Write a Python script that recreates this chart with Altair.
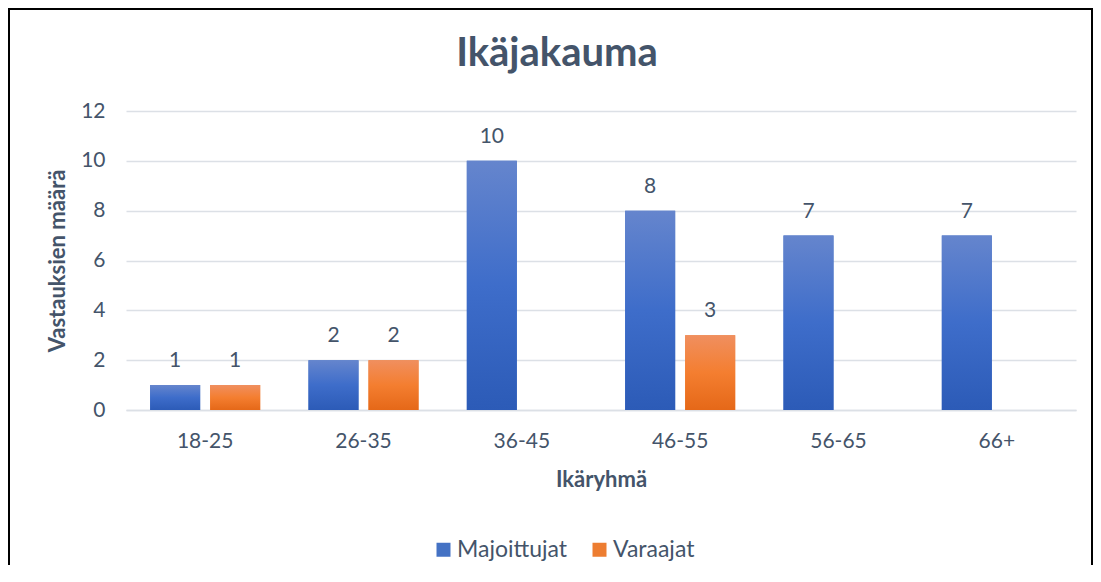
import altair as alt
import pandas as pd

categories = ["18-25", "26-35", "36-45", "46-55", "56-65", "66+"]
majoittujat = [1, 2, 10, 8, 7, 7]
varaajat = [1, 2, None, 3, None, None]
series_names = ["Majoittujat", "Varaajat"]

rows = []
for c, m, v in zip(categories, majoittujat, varaajat):
    rows.append({"ryhma": c, "sarja": "Majoittujat", "arvo": m})
    rows.append({"ryhma": c, "sarja": "Varaajat", "arvo": v})
df = pd.DataFrame(rows)

TXT = "#44546A"
FONT = "Lato"

blue_grad = alt.LinearGradient(
    gradient="linear", x1=0, x2=0, y1=0, y2=1,
    stops=[alt.GradientStop(color="#6585CD", offset=0),
           alt.GradientStop(color="#3E6DCA", offset=0.5),
           alt.GradientStop(color="#2C5BB7", offset=1)])
orange_grad = alt.LinearGradient(
    gradient="linear", x1=0, x2=0, y1=0, y2=1,
    stops=[alt.GradientStop(color="#F08F5F", offset=0),
           alt.GradientStop(color="#F47E30", offset=0.5),
           alt.GradientStop(color="#E56818", offset=1)])

x_enc = alt.X("ryhma:N", sort=categories,
              scale=alt.Scale(paddingInner=0.305, paddingOuter=0.1525),
              axis=alt.Axis(title="Ikäryhmä", labelAngle=0, ticks=False, tickSize=0,
                            domainColor="#DCE0E6", domainWidth=1.5,
                            labelPadding=20, titlePadding=18))
xo_enc = alt.XOffset("sarja:N", sort=series_names,
                     scale=alt.Scale(domain=series_names, paddingInner=1/6, paddingOuter=0))
y_enc = alt.Y("arvo:Q", scale=alt.Scale(domain=[0, 12]),
              axis=alt.Axis(title="Vastauksien määrä", values=[0, 2, 4, 6, 8, 10, 12],
                            ticks=False, tickSize=0, domain=False, labelPadding=21,
                            titlePadding=11, gridColor="#DCE0E6", gridWidth=1.5))

base = alt.Chart(df)

solid = base.mark_bar().encode(
    x=x_enc, xOffset=xo_enc, y=y_enc,
    color=alt.Color("sarja:N", sort=series_names,
                    scale=alt.Scale(domain=series_names, range=["#4472C4", "#ED7D31"]),
                    legend=alt.Legend(title=None, orient="none", direction="horizontal",
                                      legendX=306, legendY=427, padding=0,
                                      symbolType="square", symbolSize=196,
                                      symbolStrokeWidth=0, labelFontSize=23,
                                      labelColor=TXT, labelFont=FONT, labelOffset=2,
                                      columnPadding=20)),
)

grad_blue = base.transform_filter(alt.datum.sarja == "Majoittujat").mark_bar().encode(
    x=alt.X("ryhma:N", sort=categories), xOffset=alt.XOffset("sarja:N", sort=series_names),
    y="arvo:Q", fill=alt.value(blue_grad))
grad_orange = base.transform_filter(alt.datum.sarja == "Varaajat").mark_bar().encode(
    x=alt.X("ryhma:N", sort=categories), xOffset=alt.XOffset("sarja:N", sort=series_names),
    y="arvo:Q", fill=alt.value(orange_grad))

labels = base.mark_text(baseline="alphabetic", dy=-18, fontSize=21, font=FONT,
                        color=TXT).encode(
    x=alt.X("ryhma:N", sort=categories), xOffset=alt.XOffset("sarja:N", sort=series_names),
    y="arvo:Q", text=alt.Text("arvo:Q", format="d"))

border = alt.Chart(alt.Data(values=[{}])).mark_rect(
    fillOpacity=0, stroke="black", strokeWidth=2).encode(
    x=alt.value(-117), x2=alt.value(966), y=alt.value(-102), y2=alt.value(600))

chart = alt.layer(solid, grad_blue, grad_orange, labels, border).properties(
    width=950, height=299,
    title=alt.TitleParams("Ikäjakauma", anchor="middle", fontSize=40, font=FONT,
                          fontWeight="bold", color=TXT, offset=-98,
                          baseline="alphabetic", dx=-44),
    autosize=alt.AutoSizeParams(type="none"),
    padding={"left": 118, "top": 103, "right": 17, "bottom": 155},
    background="white",
).configure_view(stroke=None).configure_axis(
    labelFont=FONT, labelFontSize=21, labelColor=TXT,
    titleFont=FONT, titleFontSize=22, titleFontWeight="bold", titleColor=TXT,
)

chart.save("out.html", embed_options={"renderer": "svg", "actions": False})
